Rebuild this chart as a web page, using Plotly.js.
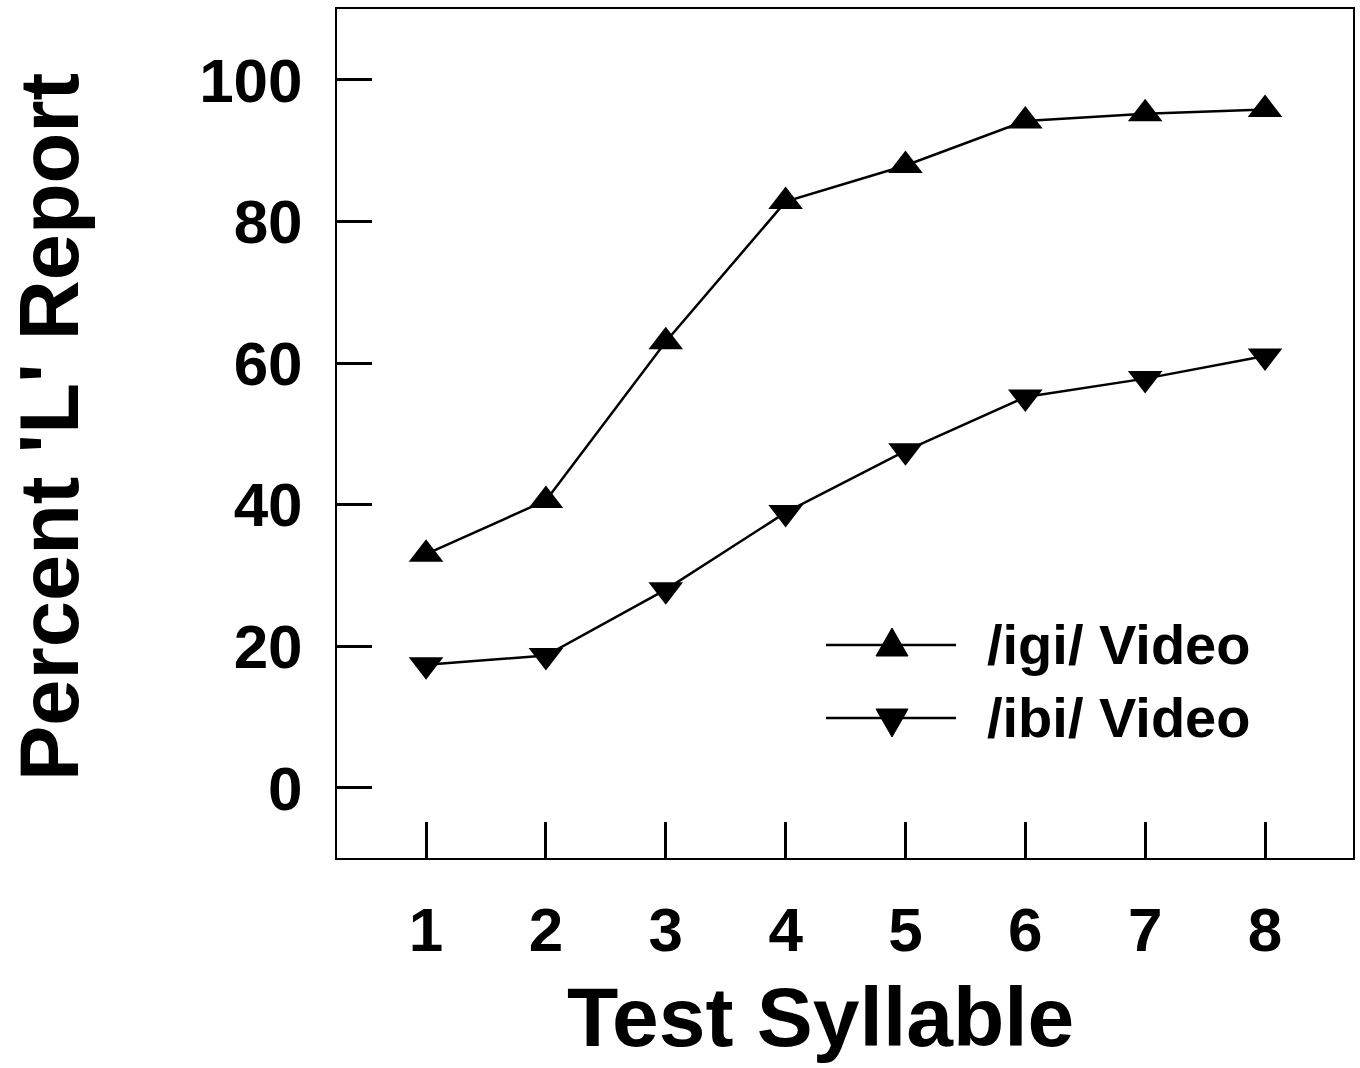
<!DOCTYPE html>
<html>
<head>
<meta charset="utf-8">
<script src="https://cdn.plot.ly/plotly-3.0.1.min.js"></script>
<style>html,body{margin:0;padding:0;background:#fff;}</style>
</head>
<body>
<div id="chart" style="width:1360px;height:1068px;"></div>
<script>
const syllables = [1, 2, 3, 4, 5, 6, 7, 8];
const igiVideo = [33.0, 40.6, 63.0, 82.8, 87.9, 94.2, 95.2, 95.8];
const ibiVideo = [17.4, 18.7, 28.0, 38.9, 47.6, 55.2, 57.8, 61.0];
const yTicks = [0, 20, 40, 60, 80, 100];
const seriesNames = ['/igi/ Video', '/ibi/ Video'];
const xTitle = 'Test Syllable';
const yTitle = "Percent 'L' Report";

const FONT = 'Liberation Sans, Arial, Helvetica, sans-serif';
const W = 1360, H = 1068;
const M = {l: 337, r: 7, t: 9, b: 210};
const PW = W - M.l - M.r, PH = H - M.t - M.b;
// pixel -> paper helpers (for legend / title decorations only)
const px = v => (v - M.l) / PW;
const py = v => 1 - (v - M.t) / PH;

const traces = [
  {
    x: syllables, y: igiVideo, name: seriesNames[0],
    mode: 'lines+markers', type: 'scatter', showlegend: false,
    line: {color: '#000', width: 2.5},
    marker: {symbol: 'triangle-up', size: 30, color: '#000'}
  },
  {
    x: syllables, y: ibiVideo, name: seriesNames[1],
    mode: 'lines+markers', type: 'scatter', showlegend: false,
    line: {color: '#000', width: 2.5},
    marker: {symbol: 'triangle-down', size: 30, color: '#000'}
  }
];

// custom legend (large triangles, long sample lines)
const legendRows = [
  {name: seriesNames[0], yLine: 645, up: true},
  {name: seriesNames[1], yLine: 718, up: false}
];
const shapes = [];
const annotations = [];
legendRows.forEach(r => {
  shapes.push({type: 'line', xref: 'paper', yref: 'paper',
    x0: px(826), x1: px(956), y0: py(r.yLine), y1: py(r.yLine),
    line: {color: '#000', width: 2.5}});
  const cx = 892, hw = 16, h = 28;
  let path;
  if (r.up) {
    const base = r.yLine + 11, apex = base - h;
    path = `M${px(cx - hw)},${py(base)} L${px(cx + hw)},${py(base)} L${px(cx)},${py(apex)} Z`;
  } else {
    const top = r.yLine - 9, apex = top + h;
    path = `M${px(cx - hw)},${py(top)} L${px(cx + hw)},${py(top)} L${px(cx)},${py(apex)} Z`;
  }
  shapes.push({type: 'path', xref: 'paper', yref: 'paper', path: path,
    fillcolor: '#000', line: {color: '#000', width: 1}});
  annotations.push({xref: 'paper', yref: 'paper', x: px(985), y: py(r.yLine - 1),
    xanchor: 'left', yanchor: 'middle', showarrow: false, text: r.name,
    font: {family: FONT, size: 56, color: '#000', weight: 700}});
});
// axis titles
annotations.push({xref: 'paper', yref: 'paper', x: px(820), y: py(1017),
  xanchor: 'center', yanchor: 'middle', showarrow: false, text: xTitle,
  font: {family: FONT, size: 84, color: '#000', weight: 700}});
annotations.push({xref: 'paper', yref: 'paper', x: px(50), y: py(427),
  xanchor: 'center', yanchor: 'middle', showarrow: false, text: yTitle, textangle: -90,
  font: {family: FONT, size: 83, color: '#000', weight: 700}});

const layout = {
  width: W, height: H,
  margin: M,
  paper_bgcolor: '#fff', plot_bgcolor: '#fff',
  font: {family: FONT, color: '#000', weight: 700},
  showlegend: false,
  shapes: shapes,
  annotations: annotations,
  xaxis: {
    range: [0.257, 8.734],
    tickmode: 'array', tickvals: syllables, ticktext: syllables.map(String),
    ticks: 'inside', ticklen: 36, tickwidth: 3, tickcolor: '#000',
    showline: true, linewidth: 2, linecolor: '#000', mirror: true,
    showgrid: false, zeroline: false, ticklabelstandoff: 17,
    tickfont: {family: FONT, size: 62, color: '#000', weight: 700}
  },
  yaxis: {
    range: [-9.9, 110],
    tickmode: 'array', tickvals: yTicks, ticktext: yTicks.map(String),
    ticks: 'inside', ticklen: 35, tickwidth: 3, tickcolor: '#000',
    showline: true, linewidth: 2, linecolor: '#000', mirror: true,
    showgrid: false, zeroline: false, ticklabelstandoff: 20,
    tickfont: {family: FONT, size: 62, color: '#000', weight: 700}
  }
};

Plotly.newPlot('chart', traces, layout, {displayModeBar: false, staticPlot: true});
</script>
</body>
</html>
